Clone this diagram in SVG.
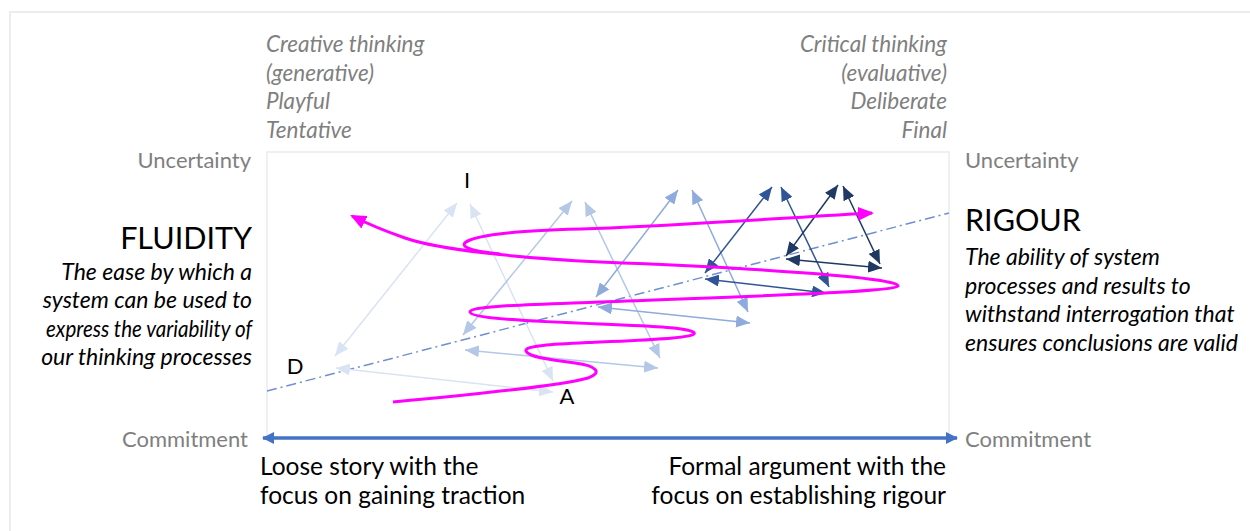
<svg xmlns="http://www.w3.org/2000/svg" width="1250" height="531" viewBox="0 0 1250 531">
<style>
text{font-family:Lato,"Liberation Sans",sans-serif}
.g{fill:#7f7f7f;font-size:22px}
.gi{fill:#7f7f7f;font-size:22.5px;font-style:italic}
.bi{fill:#000;font-size:23px;font-style:italic}
.b{fill:#000;font-size:24.5px}
.h{fill:#000;font-size:30.5px}
.lbl{fill:#000;font-size:22px}
.c1{stroke:#dae3f3;stroke-width:1.5;fill:none;marker-start:url(#m1);marker-end:url(#m1)}
.c2{stroke:#b4c7e7;stroke-width:1.5;fill:none;marker-start:url(#m2);marker-end:url(#m2)}
.c3{stroke:#8faadc;stroke-width:1.5;fill:none;marker-start:url(#m3);marker-end:url(#m3)}
.c4{stroke:#2f5597;stroke-width:1.5;fill:none;marker-start:url(#m4);marker-end:url(#m4)}
.c5{stroke:#1f3864;stroke-width:1.5;fill:none;marker-start:url(#m5);marker-end:url(#m5)}
.mag{stroke:#ff00ff;stroke-width:3;fill:none}
</style>
<defs>
<marker id="m1" viewBox="0 0 14 12" refX="14" refY="6" markerWidth="14" markerHeight="12" markerUnits="userSpaceOnUse" orient="auto-start-reverse"><path d="M0,0L14,6L0,12z" fill="#dae3f3"/></marker>
<marker id="m2" viewBox="0 0 14 12" refX="14" refY="6" markerWidth="14" markerHeight="12" markerUnits="userSpaceOnUse" orient="auto-start-reverse"><path d="M0,0L14,6L0,12z" fill="#b4c7e7"/></marker>
<marker id="m3" viewBox="0 0 14 12" refX="14" refY="6" markerWidth="14" markerHeight="12" markerUnits="userSpaceOnUse" orient="auto-start-reverse"><path d="M0,0L14,6L0,12z" fill="#8faadc"/></marker>
<marker id="m4" viewBox="0 0 14 12" refX="14" refY="6" markerWidth="14" markerHeight="12" markerUnits="userSpaceOnUse" orient="auto-start-reverse"><path d="M0,0L14,6L0,12z" fill="#2f5597"/></marker>
<marker id="m5" viewBox="0 0 14 12" refX="14" refY="6" markerWidth="14" markerHeight="12" markerUnits="userSpaceOnUse" orient="auto-start-reverse"><path d="M0,0L14,6L0,12z" fill="#1f3864"/></marker>
<marker id="mm" viewBox="0 0 16 14" refX="14" refY="7" markerWidth="16" markerHeight="14" markerUnits="userSpaceOnUse" orient="auto"><path d="M0,0L16,7L0,14z" fill="#ff00ff"/></marker>
<marker id="ax" viewBox="0 0 12 12" refX="11" refY="6" markerWidth="12" markerHeight="12" markerUnits="userSpaceOnUse" orient="auto-start-reverse"><path d="M0,0L12,6L0,12z" fill="#4472c4"/></marker>
</defs>
<rect width="1250" height="531" fill="#fff"/>
<path d="M10,531V12H1250" stroke="#ececec" stroke-width="2" fill="none"/>
<rect id="chart-area" x="267" y="152" width="682" height="286" fill="none" stroke="#f0f0f0" stroke-width="2"/>

<g id="left-header">
<text class="gi" x="266" y="52">Creative thinking</text>
<text class="gi" x="266" y="81">(generative)</text>
<text class="gi" x="266" y="109">Playful</text>
<text class="gi" x="266" y="138">Tentative</text>
</g>
<g id="right-header" text-anchor="end">
<text class="gi" x="947" y="52">Critical thinking</text>
<text class="gi" x="947" y="81">(evaluative)</text>
<text class="gi" x="947" y="109">Deliberate</text>
<text class="gi" x="947" y="138">Final</text>
</g>
<g id="axis-labels">
<text class="g" x="251" y="168" text-anchor="end">Uncertainty</text>
<text class="g" x="965" y="168">Uncertainty</text>
<text class="g" x="248" y="447" text-anchor="end">Commitment</text>
<text class="g" x="965" y="447">Commitment</text>
</g>
<g id="fluidity" text-anchor="end">
<text class="h" x="252" y="249">FLUIDITY</text>
<text class="bi" x="252" y="280">The ease by which a</text>
<text class="bi" x="252" y="308">system can be used to</text>
<text class="bi" x="252" y="337" textLength="206" lengthAdjust="spacingAndGlyphs">express the variability of</text>
<text class="bi" x="252" y="365">our thinking processes</text>
</g>
<g id="rigour">
<text class="h" x="965" y="231">RIGOUR</text>
<text class="bi" x="965" y="265">The ability of system</text>
<text class="bi" x="965" y="294">processes and results to</text>
<text class="bi" x="965" y="322">withstand interrogation that</text>
<text class="bi" x="965" y="351">ensures conclusions are valid</text>
</g>
<g id="bottom-left">
<text class="b" x="260" y="475">Loose story with the</text>
<text class="b" x="260" y="504">focus on gaining traction</text>
</g>
<g id="bottom-right" text-anchor="end">
<text class="b" x="946" y="475">Formal argument with the</text>
<text class="b" x="946" y="504">focus on establishing rigour</text>
</g>
<g id="node-I"><text class="lbl" x="467" y="188" text-anchor="middle">I</text></g>
<g id="node-D"><text class="lbl" x="295" y="374" text-anchor="middle">D</text></g>
<g id="node-A"><text class="lbl" x="567" y="404" text-anchor="middle">A</text></g>

<g id="connectors">
<line x1="263" y1="438" x2="957" y2="438" stroke="#4472c4" stroke-width="3.5" marker-start="url(#ax)" marker-end="url(#ax)"/>
<line x1="267" y1="391" x2="949" y2="213" stroke="#6f8fcf" stroke-width="1.5" stroke-dasharray="10,4,2,4"/>
<line class="c1" x1="335" y1="356" x2="457" y2="203"/>
<line class="c1" x1="470" y1="204" x2="553" y2="381"/>
<line class="c1" x1="336" y1="368" x2="553" y2="392"/>
<line class="c2" x1="463" y1="335" x2="572" y2="201"/>
<line class="c2" x1="585" y1="202" x2="660" y2="358"/>
<line class="c2" x1="465" y1="350" x2="658" y2="368"/>
<line class="c3" x1="596" y1="297" x2="678" y2="190"/>
<line class="c3" x1="692" y1="190" x2="748" y2="312"/>
<line class="c3" x1="598" y1="307" x2="750" y2="323"/>
<line class="c4" x1="705" y1="273" x2="772" y2="187"/>
<line class="c4" x1="781" y1="187" x2="829" y2="287"/>
<line class="c4" x1="705" y1="279" x2="826" y2="293"/>
<line class="c5" x1="786" y1="256" x2="838" y2="185"/>
<line class="c5" x1="843" y1="186" x2="880" y2="264"/>
<line class="c5" x1="786" y1="259" x2="882" y2="268"/>
<path class="mag" marker-end="url(#mm)" d="M393,402 C480,394 560,386 588,378 C602,373 598,366 575,363 C550,360 528,357 526,351 C524,345 560,344 600,342 C650,340 690,338 694,334 C698,328 650,326 600,324 C520,321 470,318 470,312 C470,306 520,305 600,302 C750,296 895,292 898,286 C900,278 760,268 600,262 C520,258 440,250 405,238 C385,231 368,224 352,216"/>
<path class="mag" marker-end="url(#mm)" d="M500,254 C470,251 455,246 470,240 C490,232 540,230 610,228 C700,224 800,217 872,213"/>
</g>
</svg>
